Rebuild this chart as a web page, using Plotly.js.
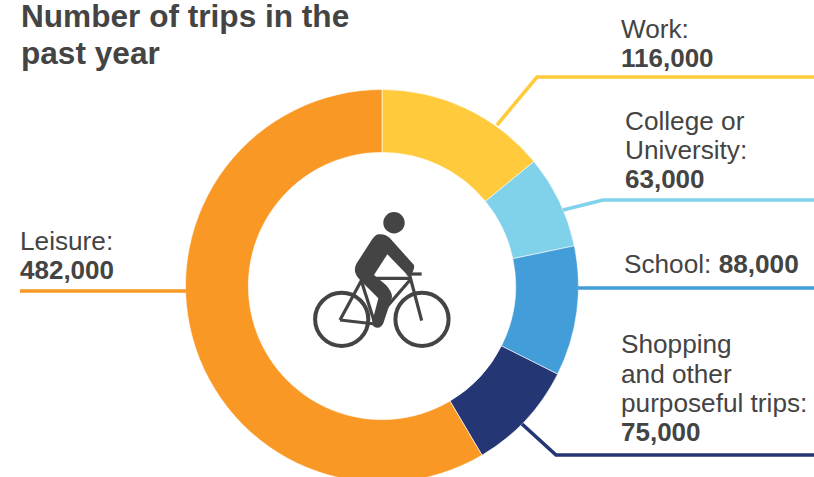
<!DOCTYPE html>
<html>
<head>
<meta charset="utf-8">
<script src="https://cdn.plot.ly/plotly-3.0.1.min.js"></script>
<style>html,body{margin:0;padding:0;background:#fff;overflow:hidden;width:814px;height:477px}#chart{width:814px;height:572px}</style>
</head>
<body>
<div id="chart"></div>
<script>
const categories = ["Work", "College or University", "School", "Shopping and other purposeful trips", "Leisure"];
const trips = [116000, 63000, 88000, 75000, 482000];
const sliceColors = ["#FFCB3D", "#80D2EA", "#429DD8", "#243673", "#F99825"];
const titleLines = ["Number of trips in the", "past year"];
const textColor = "#444444";

const W = 814, H = 572, CX = 382, CY = 286, R = 196.5;
const fx = p => p / W, fy = p => 1 - p / H;

// label lines: [text, x, y centre, bold]
const labelLines = [
  ["Work:", 620, 29, false], ["116,000", 620, 58, true],
  ["College or", 624, 121, false], ["University:", 624, 150, false], ["63,000", 624, 179, true],
  ["School: <b>88,000</b>", 623, 264, false],
  ["Shopping", 620, 344, false], ["and other", 620, 374, false], ["purposeful trips:", 620, 403, false], ["75,000", 620, 432, true],
  ["Leisure:", 19, 241, false], ["482,000", 19, 270, true]
];
// leader lines: colour index, points
const leaders = [
  [0, [[497,125],[537,77],[814,77]]],
  [1, [[563,210],[603,200],[814,200]]],
  [2, [[578,288],[814,288]]],
  [3, [[522,424],[556,455],[814,455]]],
  [4, [[20,291],[186,291]]]
];

const px = (x, y) => fx(x) + "," + fy(y);
const icon = (x, y) => px(300 + x / 3, 200 + y / 3);
const iconColor = "#444444";
const shapes = [];
leaders.forEach(([c, pts]) => {
  shapes.push({type:"path", xref:"paper", yref:"paper", layer:"above",
    path:"M" + pts.map(p => px(p[0], p[1])).join(" L"),
    line:{color:sliceColors[c], width:3.6}});
});
function circ(x, y, r, fill, w) {
  shapes.push({type:"circle", xref:"paper", yref:"paper", layer:"above",
    x0:fx(x-r), x1:fx(x+r), y0:fy(y+r), y1:fy(y-r),
    fillcolor:fill, line:{color:iconColor, width:w}});
}
circ(394, 222.7, 10.7, iconColor, 0);
circ(341.7, 319.3, 26.6, "rgba(0,0,0,0)", 4);
circ(422, 319.3, 26.6, "rgba(0,0,0,0)", 4);
[
  [[215,235],[332,235]], [[320,222],[365,222]], [[185,240],[120,360]], [[120,360],[225,372]],
  [[185,245],[225,372]], [[330,240],[235,350]], [[328,222],[365,362]]
].forEach(seg => {
  shapes.push({type:"path", xref:"paper", yref:"paper", layer:"above",
    path:"M" + icon(...seg[0]) + " L" + icon(...seg[1]),
    line:{color:iconColor, width:3.2}});
});
shapes.push({type:"path", xref:"paper", yref:"paper", layer:"above", fillcolor:iconColor, line:{color:iconColor, width:0},
  path:"M"+icon(235,103)+" Q"+icon(255,100)+" "+icon(270,115)+" L"+icon(342,195)+" Q"+icon(345,215)+" "+icon(325,228)+
       " L"+icon(262,163)+" L"+icon(222,225)+" L"+icon(258,255)+" Q"+icon(280,280)+" "+icon(275,295)+
       " L"+icon(250,370)+" Q"+icon(240,390)+" "+icon(222,380)+" Q"+icon(212,370)+" "+icon(222,345)+
       " L"+icon(235,295)+" L"+icon(180,240)+" Q"+icon(155,215)+" "+icon(170,190)+" L"+icon(215,120)+" Q"+icon(225,105)+" "+icon(235,103)+" Z"});

const annotations = [];
titleLines.forEach((t, i) => annotations.push({
  text:"<b>"+t+"</b>", xref:"paper", yref:"paper", x:fx(19.5), y:fy(16 + i*37), xanchor:"left", yanchor:"middle",
  showarrow:false, borderpad:0, font:{family:"Liberation Sans, Arial, sans-serif", size:31.6, color:textColor}
}));
labelLines.forEach(([t, x, y, b]) => annotations.push({
  text:b ? "<b>"+t+"</b>" : t, xref:"paper", yref:"paper", x:fx(x), y:fy(y), xanchor:"left", yanchor:"middle",
  showarrow:false, borderpad:0, font:{family:"Liberation Sans, Arial, sans-serif", size:b ? 26 : 26.2, color:textColor}
}));

Plotly.newPlot("chart", [{
  type:"pie", labels:categories, values:trips, sort:false, direction:"clockwise", rotation:0,
  hole:0.68, textinfo:"none", hoverinfo:"label+value",
  marker:{colors:sliceColors, line:{color:"#ffffff", width:0.6}},
  domain:{x:[fx(CX-R), fx(CX+R)], y:[fy(CY+R), fy(CY-R)]}
}], {
  width:W, height:H, margin:{l:0,r:0,t:0,b:0}, showlegend:false,
  paper_bgcolor:"#ffffff", shapes, annotations
}, {displayModeBar:false});
</script>
</body>
</html>
